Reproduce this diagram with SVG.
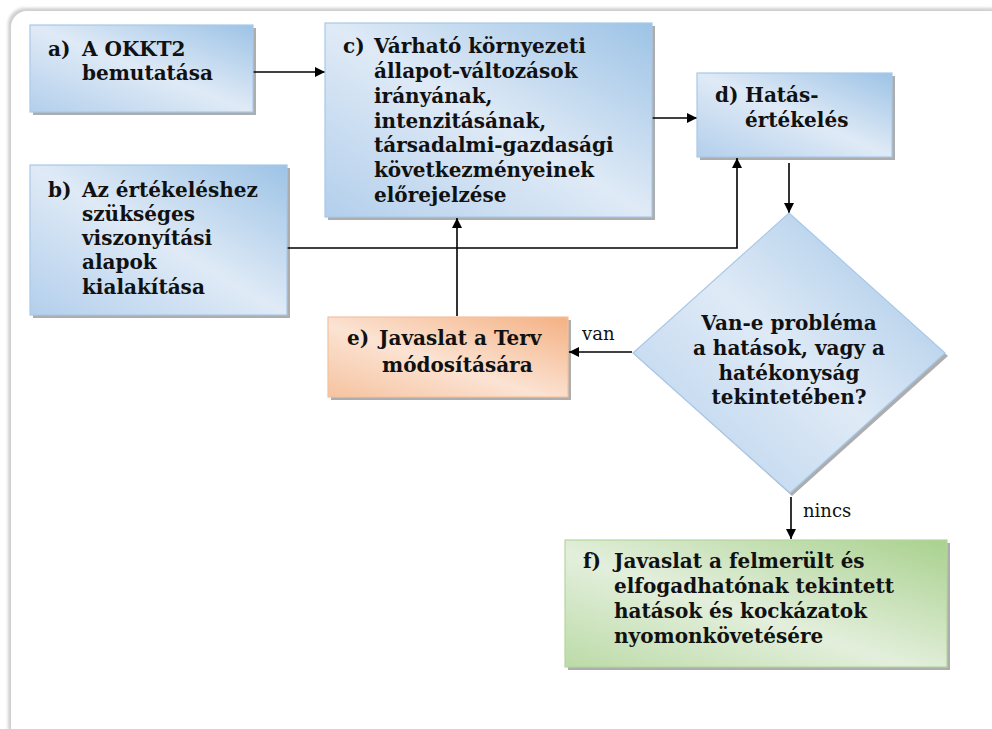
<svg xmlns="http://www.w3.org/2000/svg" width="992" height="729" viewBox="0 0 992 729">
<defs>
<style>
.t{font-family:"DejaVu Serif","Liberation Serif",serif;font-weight:bold;font-size:20px;fill:#111}
.lbl{font-family:"DejaVu Serif","Liberation Serif",serif;font-size:18px;fill:#111}
.ln{stroke:#000;stroke-width:1.6;fill:none}
.shadow{fill:#000;opacity:0.32}
</style>
<linearGradient id="gBlue" x1="1" y1="0" x2="0" y2="1">
<stop offset="0" stop-color="#9dc3e6"/>
<stop offset="0.5" stop-color="#dfeaf6"/>
<stop offset="1" stop-color="#b3cfec"/>
</linearGradient>
<linearGradient id="gOrange" x1="1" y1="0" x2="0" y2="1">
<stop offset="0" stop-color="#f4b183"/>
<stop offset="0.55" stop-color="#fbe3d3"/>
<stop offset="1" stop-color="#f6c3a0"/>
</linearGradient>
<linearGradient id="gGreen" x1="1" y1="0" x2="0" y2="1">
<stop offset="0" stop-color="#a9d18e"/>
<stop offset="0.55" stop-color="#e3efdc"/>
<stop offset="1" stop-color="#bcdba8"/>
</linearGradient>
<filter id="outer" x="-5%" y="-5%" width="110%" height="110%">
<feGaussianBlur stdDeviation="1.5"/>
</filter>
<marker id="arr" viewBox="0 0 10 10" refX="10" refY="5" markerWidth="11" markerHeight="10" markerUnits="userSpaceOnUse" orient="auto">
<path d="M0,0 L10,5 L0,10 z" fill="#000"/>
</marker>
</defs>

<rect x="0" y="0" width="992" height="729" fill="#fff"/>
<g id="frame">
<rect x="8" y="8" width="1000" height="735" rx="17" fill="#cfcfcf" filter="url(#outer)"/>
<rect x="11" y="11" width="1000" height="735" rx="16" fill="#fff"/>
</g>

<g id="connectors">
<line class="ln" x1="253" y1="72" x2="325" y2="72" marker-end="url(#arr)"/>
<line class="ln" x1="652" y1="118" x2="697" y2="118" marker-end="url(#arr)"/>
<polyline class="ln" points="287,248 737,248 737,158" marker-end="url(#arr)"/>
<line class="ln" x1="457" y1="316" x2="457" y2="218" marker-end="url(#arr)"/>
<line class="ln" x1="789" y1="163" x2="789" y2="213" marker-end="url(#arr)"/>
<line class="ln" x1="632" y1="352" x2="569" y2="352" marker-end="url(#arr)"/>
<line class="ln" x1="791" y1="497" x2="791" y2="539" marker-end="url(#arr)"/>
<text class="lbl" x="582" y="340">van</text>
<text class="lbl" x="803" y="517">nincs</text>
</g>

<g id="node-a">
<rect class="shadow" x="33" y="28" width="223" height="87"/>
<rect x="30" y="25" width="223" height="87" fill="url(#gBlue)" stroke="#a8c8e8" stroke-width="1.2"/>
<text class="t"><tspan x="48" y="56">a)</tspan><tspan x="82" y="56">A OKKT2</tspan><tspan x="82" y="80">bemutatása</tspan></text>
</g>

<g id="node-b">
<rect class="shadow" x="33" y="168" width="257" height="150"/>
<rect x="30" y="165" width="257" height="150" fill="url(#gBlue)" stroke="#a8c8e8" stroke-width="1.2"/>
<text class="t"><tspan x="48" y="197">b)</tspan><tspan x="82" y="197">Az értékeléshez</tspan><tspan x="82" y="221">szükséges</tspan><tspan x="82" y="245">viszonyítási</tspan><tspan x="82" y="269">alapok</tspan><tspan x="82" y="294">kialakítása</tspan></text>
</g>

<g id="node-c">
<rect class="shadow" x="328" y="26" width="327" height="194"/>
<rect x="325" y="23" width="327" height="194" fill="url(#gBlue)" stroke="#a8c8e8" stroke-width="1.2"/>
<text class="t"><tspan x="343" y="53">c)</tspan><tspan x="374" y="53">Várható környezeti</tspan><tspan x="374" y="78">állapot-változások</tspan><tspan x="374" y="103">irányának,</tspan><tspan x="374" y="128">intenzitásának,</tspan><tspan x="374" y="152">társadalmi-gazdasági</tspan><tspan x="374" y="177">következményeinek</tspan><tspan x="374" y="202">előrejelzése</tspan></text>
</g>

<g id="node-d">
<rect class="shadow" x="700" y="76" width="195" height="84"/>
<rect x="697" y="73" width="195" height="84" fill="url(#gBlue)" stroke="#a8c8e8" stroke-width="1.2"/>
<text class="t"><tspan x="715" y="102">d)</tspan><tspan x="745" y="102">Hatás-</tspan><tspan x="745" y="127">értékelés</tspan></text>
</g>

<g id="node-diamond">
<polygon class="shadow" points="791,216 948,356 792,496 636,356"/>
<polygon points="789,213 945,353 790,493 633,353" fill="url(#gBlue)" stroke="#a8c8e8" stroke-width="1.2"/>
<text class="t" text-anchor="middle"><tspan x="789" y="330">Van-e probléma</tspan><tspan x="789" y="355">a hatások, vagy a</tspan><tspan x="789" y="380">hatékonyság</tspan><tspan x="789" y="404">tekintetében?</tspan></text>
</g>

<g id="node-e">
<rect class="shadow" x="331" y="320" width="240" height="80"/>
<rect x="328" y="317" width="240" height="80" fill="url(#gOrange)" stroke="#f2c19f" stroke-width="1.2"/>
<text class="t"><tspan x="347" y="345">e)</tspan><tspan x="379" y="345">Javaslat a Terv</tspan><tspan x="382" y="372">módosítására</tspan></text>
</g>

<g id="node-f">
<rect class="shadow" x="568" y="543" width="382" height="127"/>
<rect x="565" y="540" width="382" height="127" fill="url(#gGreen)" stroke="#b5d69f" stroke-width="1.2"/>
<text class="t"><tspan x="583" y="568">f)</tspan><tspan x="614" y="568">Javaslat a felmerült és</tspan><tspan x="614" y="593">elfogadhatónak tekintett</tspan><tspan x="614" y="618">hatások és kockázatok</tspan><tspan x="614" y="643">nyomonkövetésére</tspan></text>
</g>
</svg>
